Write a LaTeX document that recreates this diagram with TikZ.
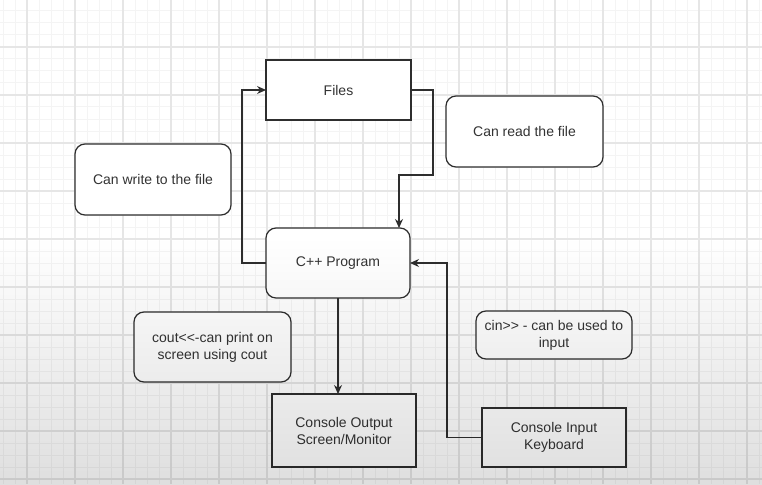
\documentclass[tikz,border=0pt]{standalone}
\usepackage{fontspec}
\setmainfont{Liberation Sans}
\usetikzlibrary{arrows.meta,fadings}
\definecolor{ink}{HTML}{2E2E2E}
\definecolor{txt}{HTML}{333333}
\definecolor{gridminor}{HTML}{F4F4F4}
\definecolor{gridmajor}{HTML}{E6E6E6}
\tikzset{
  box/.style={draw=ink, line width=1.2pt, fill=white, inner sep=0pt, outer sep=0pt,
    align=center, text=txt, font=\fontsize{14}{17}\selectfont},
  rbox/.style={box, rounded corners=10pt},
  conn/.style={draw=ink, line width=1.2pt, -{Stealth[length=9pt,width=8pt]}},
}
\begin{document}
\begin{tikzpicture}[x=1pt,y=-1pt]
\useasboundingbox (0,0) rectangle (762,484);
\clip (0,0) rectangle (762,484);
\fill[white] (0,0) rectangle (762,484);
% grid
\foreach \gx in {3,15,...,759} \draw[gridminor, line width=1pt] (\gx,0) -- (\gx,484);
\foreach \gy in {11,23,...,484} \draw[gridminor, line width=1pt] (0,\gy) -- (762,\gy);
\foreach \gx in {27,75,...,759} \draw[gridmajor, line width=1.2pt] (\gx,0) -- (\gx,484);
\foreach \gy in {47,95,...,484} \draw[gridmajor, line width=1.2pt] (0,\gy) -- (762,\gy);

% nodes
\node[box, minimum width=145pt, minimum height=60pt] (files) at (338.5,90) {Files};
\node[rbox, minimum width=157pt, minimum height=71pt] (read) at (524.5,131.5) {Can read the file};
\node[rbox, minimum width=156pt, minimum height=71pt] (write) at (153,179.5) {Can write to the file};
\node[rbox, minimum width=144pt, minimum height=70pt] (cpp) at (338,263) {C++ Program};
\node[rbox, minimum width=157pt, minimum height=70pt] (cout) at (212.5,347) {cout<\kern0pt<-can print on\\screen using cout};
\node[rbox, minimum width=156pt, minimum height=48pt] (cin) at (554,335) {cin>\kern0pt> - can be used to\\input};
\node[box, minimum width=144pt, minimum height=73pt] (out) at (344,430.5) {Console Output\\Screen/Monitor};
\node[box, minimum width=144pt, minimum height=59pt] (in) at (554,437.5) {Console Input\\Keyboard};

% connectors
\coordinate (w1) at (242,263);
\coordinate (w2) at (242,90);
\draw[conn] (cpp.west) -- (w1) -- (w2) -- (files.west);
\coordinate (r1) at (433,90);
\coordinate (r2) at (433,175);
\coordinate (r3) at (399,175);
\draw[conn] (files.east) -- (r1) -- (r2) -- (r3) -- (r3 |- cpp.north);
\draw[conn] (cpp.south) -- (cpp.south |- out.north);
\coordinate (i1) at (447,437.5);
\coordinate (i2) at (447,263);
\draw[conn] (in.west) -- (i1) -- (i2) -- (cpp.east);

% video shading overlay
\fill[black, fill opacity=0.17, path fading=north] (0,238) rectangle (762,566);
\end{tikzpicture}
\end{document}
